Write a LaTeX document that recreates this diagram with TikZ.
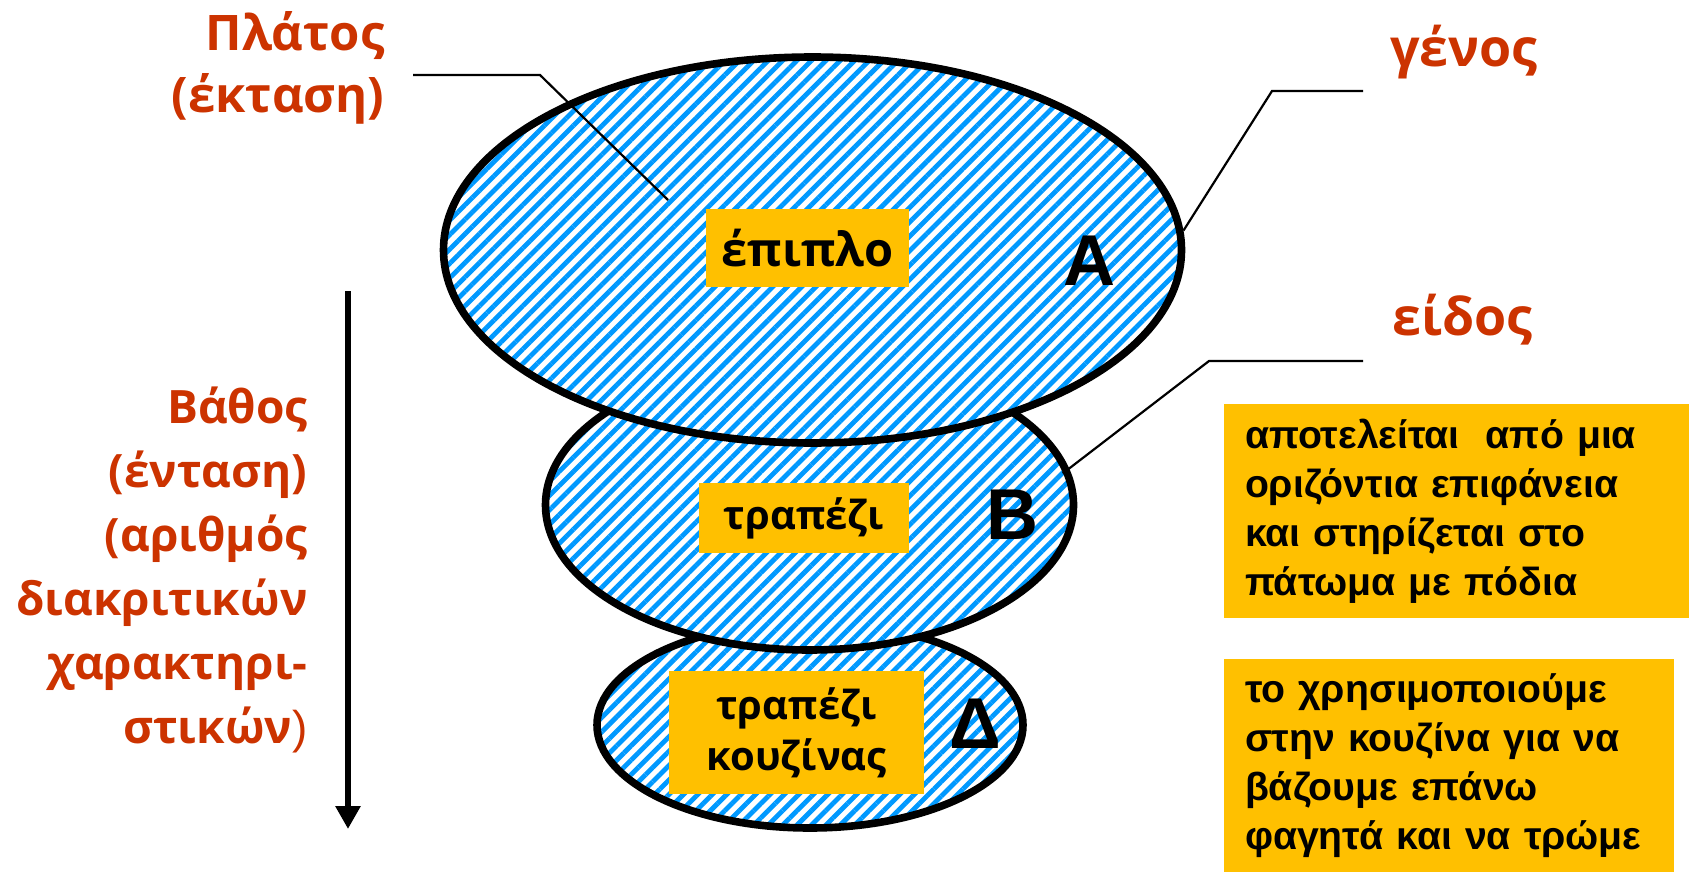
\documentclass[tikz,border=0pt]{standalone}
\usepackage{fontspec}
\setmainfont{Open Sans}
\newfontfamily\arialfont{Liberation Sans}
\usetikzlibrary{shapes.geometric,patterns.meta,arrows.meta}
\definecolor{labelred}{HTML}{CC3300}
\definecolor{tagorange}{HTML}{FFC000}
\definecolor{stripeblue}{HTML}{0099FF}

\begin{document}
\begin{tikzpicture}[x=0.5pt,y=-0.5pt]
	\tikzset{classset/.style={shape=ellipse,draw,line width=3.8pt,inner sep=0pt,preaction={fill=white},pattern={Lines[angle=45,distance=5.1pt,line width=2.4pt]},pattern color=stripeblue}}
	\tikzset{tag/.style={fill=tagorange,inner sep=0pt,align=center,font=\bfseries\fontsize{20}{25.5}\selectfont}}
	\tikzset{redlabel/.style={text=labelred,inner sep=0pt,font=\bfseries\fontsize{24.5}{31}\selectfont}}
	\tikzset{note/.style={fill=tagorange,inner xsep=10.5pt,inner ysep=0pt,align=left,font=\arialfont\bfseries\fontsize{19.6}{24.5}\selectfont}}
	\tikzset{letter/.style={inner sep=0pt,anchor=base,font=\arialfont\bfseries\fontsize{36}{40}\selectfont}}
	\tikzset{callout/.style={line width=1.1pt}}
	\useasboundingbox (0,0) rectangle (1689,872);
	% the three classes, narrowest at the bottom
	\node[classset,minimum width=213pt,minimum height=103pt] (classD) at (810,725) {};
	\node[classset,minimum width=264pt,minimum height=145pt] (classB) at (809.5,505) {};
	\node[classset,minimum width=369pt,minimum height=193pt] (classA) at (812.5,250) {};
	\node[tag,minimum width=101.5pt,minimum height=39pt,font=\bfseries\fontsize{23.5}{28}\selectfont] (furniture) at (807.5,248) {έπιπλο};
	\node[tag,minimum width=105pt,minimum height=35pt] (table) at (804,518) {τραπέζι};
	\node[tag,minimum width=127.5pt,minimum height=61.5pt] (kitchentable) at (796.5,732.5) {τραπέζι\\κουζίνας};
	\node[letter] (letA) at (1089,285) {Α};
	\node[letter] (letB) at (1012,539) {Β};
	\node[letter] (letD) at (975,748) {Δ};
	% labels
	\node[redlabel,anchor=north east,align=right] (platos) at (385,11) {Πλάτος\\(έκταση)};
	\node[redlabel,anchor=base west,font=\bfseries\fontsize{26}{31}\selectfont] (genos) at (1390,67) {γένος};
	\node[redlabel,anchor=base west,font=\bfseries\fontsize{26}{31}\selectfont] (eidos) at (1392,335) {είδος};
	\node[redlabel,anchor=north east,align=right,font=\bfseries\fontsize{23}{32}\selectfont] (vathos) at (308,386) {Βάθος\\(ένταση)\\(αριθμός\\διακριτικών\\χαρακτηρι-\\στικών{\arialfont\mdseries)}};
	\node[note,text width=211.5pt,minimum height=107pt] (defbox) at (1456.5,511) {αποτελείται~ από μια\\οριζόντια επιφάνεια\\και στηρίζεται στο\\πάτωμα με πόδια};
	\node[note,text width=204pt,minimum height=106.5pt] (usebox) at (1449,765.5) {το χρησιμοποιούμε\\στην κουζίνα για να\\βάζουμε επάνω\\φαγητά και να τρώμε};
	% callouts
	\coordinate (platosfoot) at (413,75);
	\coordinate (platosbend) at (540,75);
	\coordinate (platostip) at (668,200);
	\draw[callout] (platosfoot) -- (platosbend) -- (platostip);
	\coordinate (genosfoot) at (1363,91);
	\coordinate (genosbend) at (1272,91);
	\draw[callout] (genosfoot) -- (genosbend) -- (classA.3);
	\coordinate (eidosfoot) at (1363,361);
	\coordinate (eidosbend) at (1209,361);
	\draw[callout,shorten >=-4pt] (eidosfoot) -- (eidosbend) -- (classB.8);
	% depth arrow
	\coordinate (depthtop) at (348,291);
	\coordinate (depthtip) at (348,829);
	\draw[line width=3pt,-{Triangle[length=11.5pt,width=12pt]}] (depthtop) -- (depthtip);
\end{tikzpicture}
\end{document}
